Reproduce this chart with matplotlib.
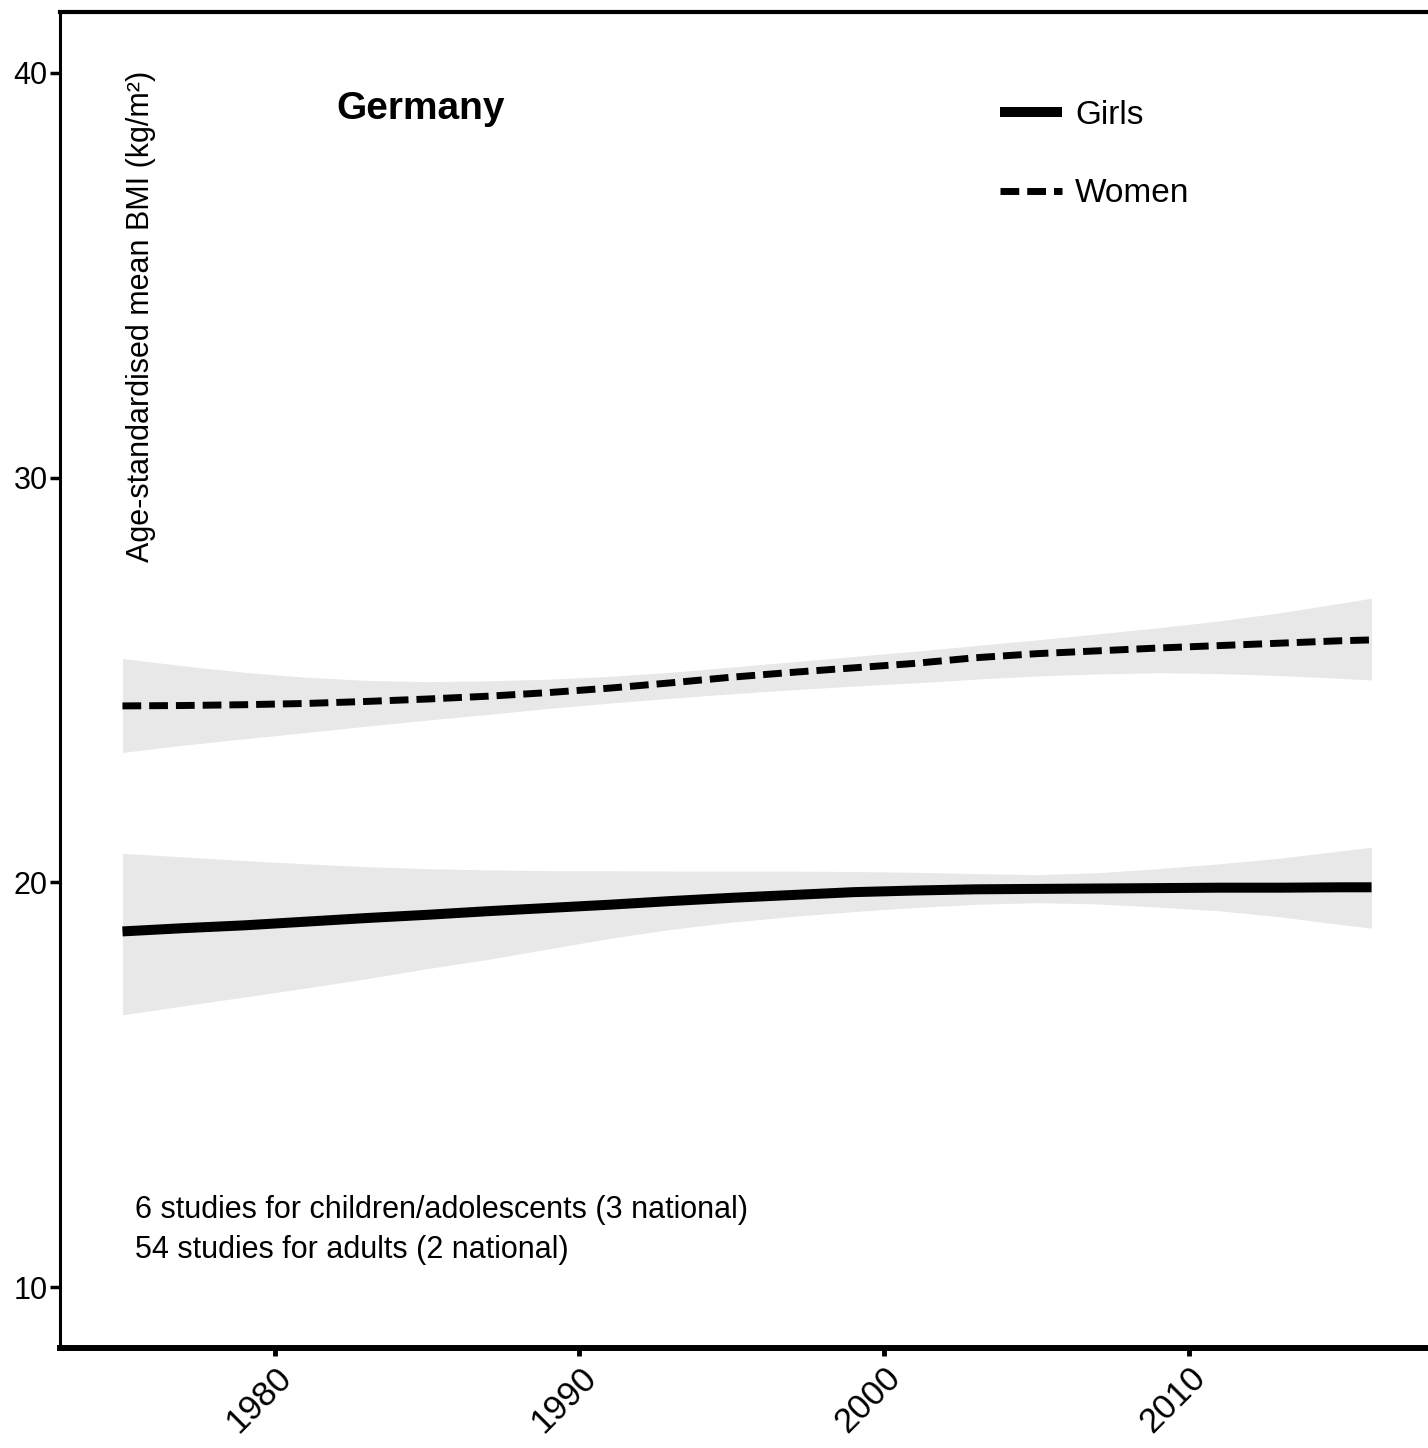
import matplotlib
matplotlib.use("Agg")
from matplotlib import pyplot as plt

plt.rcParams["font.family"] = ["Liberation Sans", "DejaVu Sans"]

# Data (fitted means with uncertainty bands).
years = [1975, 1977, 1979, 1981, 1983, 1985, 1987, 1989, 1991, 1993, 1995,
         1997, 1999, 2001, 2003, 2005, 2007, 2009, 2011, 2013, 2015, 2016]

girls_mean = [18.79, 18.87, 18.94, 19.03, 19.12, 19.20, 19.29, 19.37, 19.45, 19.54, 19.62,
              19.69, 19.76, 19.80, 19.83, 19.84, 19.85, 19.86, 19.87, 19.87, 19.88, 19.88]
girls_upper = [20.72, 20.63, 20.54, 20.46, 20.39, 20.34, 20.31, 20.29, 20.29, 20.28, 20.28,
               20.28, 20.27, 20.25, 20.22, 20.19, 20.24, 20.34, 20.46, 20.60, 20.78, 20.87]
girls_lower = [16.73, 16.95, 17.17, 17.39, 17.62, 17.87, 18.10, 18.36, 18.62, 18.84, 19.02,
               19.16, 19.28, 19.38, 19.46, 19.50, 19.47, 19.39, 19.30, 19.15, 18.96, 18.87]

women_mean = [24.36, 24.37, 24.39, 24.42, 24.47, 24.53, 24.60, 24.69, 24.80, 24.93, 25.07,
              25.19, 25.30, 25.41, 25.55, 25.65, 25.72, 25.79, 25.85, 25.91, 25.97, 25.99]
women_upper = [25.53, 25.35, 25.19, 25.07, 24.99, 24.96, 24.98, 25.02, 25.09, 25.19, 25.32,
               25.45, 25.58, 25.71, 25.85, 25.99, 26.14, 26.29, 26.46, 26.66, 26.90, 27.02]
women_lower = [23.21, 23.39, 23.55, 23.70, 23.86, 24.01, 24.15, 24.30, 24.43, 24.55, 24.66,
               24.76, 24.85, 24.93, 25.02, 25.10, 25.15, 25.18, 25.16, 25.11, 25.04, 25.00]

x_ticks = [1980, 1990, 2000, 2010]
y_ticks = [10, 20, 30, 40]

fig = plt.figure(figsize=(14.28, 14.48), dpi=100)
ax = fig.add_axes([0.04202, 0.06906, 0.96218, 0.92265])

band_col = "#e8e8e8"
ax.fill_between(years, girls_lower, girls_upper, color=band_col, linewidth=0)
ax.fill_between(years, women_lower, women_upper, color=band_col, linewidth=0)
ax.plot(years, girls_mean, color="black", linewidth=7.2, solid_capstyle="butt", label="Girls")
ax.plot(years, women_mean, color="black", linewidth=5, linestyle=(0, (2.7, 1.15)),
        label="Women")

ax.set_xlim(1972.95, 2018.05)
ax.set_ylim(8.5, 41.5)
ax.set_xticks(x_ticks)
ax.set_yticks(y_ticks)
ax.set_xticklabels([str(t) for t in x_ticks], rotation=45, ha="right",
                   rotation_mode="anchor", fontsize=25)
ax.tick_params(axis="y", labelsize=22, length=7, width=2.5, pad=2)
ax.tick_params(axis="x", length=5.5, width=3.5, pad=4)

ax.spines["right"].set_visible(False)
ax.spines["left"].set_linewidth(2.2)
ax.spines["top"].set_linewidth(3)
ax.spines["bottom"].set_linewidth(4.3)

ax.text(1975.6, 40.05, "Age-standardised mean BMI (kg/m²)", rotation=90,
        ha="center", va="top", fontsize=22)
ax.text(1984.8, 39.11, "Germany", ha="center", va="center", fontsize=28,
        fontweight="bold")
ax.text(1975.4, 11.92, "6 studies for children/adolescents (3 national)",
        ha="left", va="center", fontsize=22)
ax.text(1975.4, 10.93, "54 studies for adults (2 national)",
        ha="left", va="center", fontsize=22)

ax.legend(loc="upper left", bbox_to_anchor=(1000 / 1428, 1 - 100 / 1448),
          bbox_transform=fig.transFigure, frameon=False, fontsize=24,
          handlelength=1.86, handletextpad=0.39, labelspacing=1.42,
          borderpad=0, borderaxespad=0)

fig.savefig("out.png", dpi=100)
